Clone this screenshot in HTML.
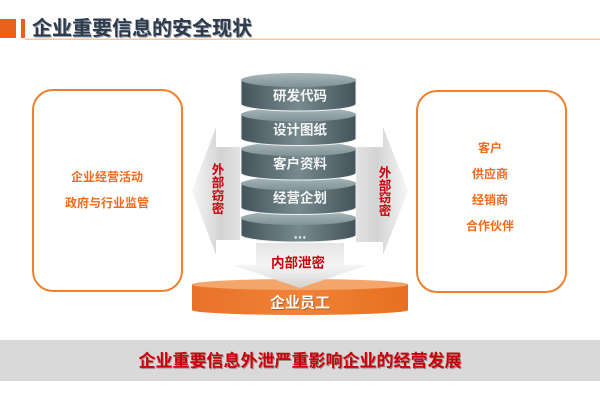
<!DOCTYPE html>
<html><head><meta charset="utf-8">
<style>
html,body{margin:0;padding:0;background:#fff;}
svg{display:block;}
text{font-family:"Liberation Sans","Noto Sans CJK SC",sans-serif;font-weight:bold;}
</style></head>
<body>
<svg width="600" height="400" viewBox="0 0 600 400" xmlns="http://www.w3.org/2000/svg">
<defs>
<linearGradient id="body" x1="0" y1="0" x2="1" y2="0">
<stop offset="0" stop-color="#43545a"/>
<stop offset="0.5" stop-color="#778a8e"/>
<stop offset="1" stop-color="#43545a"/>
</linearGradient>
<linearGradient id="top" x1="0" y1="0" x2="0" y2="1">
<stop offset="0" stop-color="#a9b8bb"/>
<stop offset="1" stop-color="#7f9296"/>
</linearGradient>
<linearGradient id="larr" x1="0" y1="0" x2="1" y2="0">
<stop offset="0" stop-color="#f6f6f6"/>
<stop offset="0.6" stop-color="#d3d3d3"/>
<stop offset="1" stop-color="#e2e2e2"/>
</linearGradient>
<linearGradient id="rarr" x1="1" y1="0" x2="0" y2="0">
<stop offset="0" stop-color="#f6f6f6"/>
<stop offset="0.6" stop-color="#d3d3d3"/>
<stop offset="1" stop-color="#e2e2e2"/>
</linearGradient>
<linearGradient id="darr" x1="0" y1="0" x2="0" y2="1">
<stop offset="0" stop-color="#e4e4e4"/>
<stop offset="0.5" stop-color="#f4f4f4"/>
<stop offset="1" stop-color="#d6d6d6"/>
</linearGradient>
<linearGradient id="obody" x1="0" y1="0" x2="1" y2="0">
<stop offset="0" stop-color="#e8722a"/>
<stop offset="0.5" stop-color="#f08236"/>
<stop offset="1" stop-color="#e6701f"/>
</linearGradient>
</defs>

<!-- title -->
<rect x="0" y="19" width="16" height="19" fill="#e8601c"/>
<rect x="21" y="19" width="4" height="19" fill="#e8601c"/>
<rect x="25" y="38.5" width="575" height="1.5" fill="#f7c4a2"/>
<text x="33" y="30" font-size="20" fill="#9aa0a8" dominant-baseline="central">企业重要信息的安全现状</text>
<text x="32" y="29" font-size="20" fill="#2e3b4d" dominant-baseline="central">企业重要信息的安全现状</text>

<!-- left box -->
<rect x="33" y="90" width="149" height="201" rx="20" ry="20" fill="#fff" stroke="#f07f2e" stroke-width="2"/>
<text x="107" y="177" font-size="12" fill="#f26a1b" text-anchor="middle" dominant-baseline="central">企业经营活动</text>
<text x="107" y="203" font-size="12" fill="#f26a1b" text-anchor="middle" dominant-baseline="central">政府与行业监管</text>

<!-- right box -->
<rect x="417" y="91" width="149" height="201" rx="20" ry="20" fill="#fff" stroke="#f07f2e" stroke-width="2"/>
<text x="490" y="148" font-size="12" fill="#f26a1b" text-anchor="middle" dominant-baseline="central">客户</text>
<text x="490" y="174" font-size="12" fill="#f26a1b" text-anchor="middle" dominant-baseline="central">供应商</text>
<text x="490" y="200" font-size="12" fill="#f26a1b" text-anchor="middle" dominant-baseline="central">经销商</text>
<text x="490" y="226" font-size="12" fill="#f26a1b" text-anchor="middle" dominant-baseline="central">合作伙伴</text>

<!-- left arrow -->
<polygon points="192,191 216,127 216,147 240,147 240,240 216,240 216,255" fill="url(#larr)"/>
<text x="218" y="170" font-size="12.5" fill="#c8000a" text-anchor="middle" dominant-baseline="central">外</text>
<text x="218" y="183" font-size="12.5" fill="#c8000a" text-anchor="middle" dominant-baseline="central">部</text>
<text x="218" y="196" font-size="12.5" fill="#c8000a" text-anchor="middle" dominant-baseline="central">窃</text>
<text x="218" y="209" font-size="12.5" fill="#c8000a" text-anchor="middle" dominant-baseline="central">密</text>

<!-- right arrow -->
<polygon points="408,191 383,127 383,147 356,147 356,242 383,242 383,255" fill="url(#rarr)"/>
<text x="385" y="173" font-size="12.5" fill="#c8000a" text-anchor="middle" dominant-baseline="central">外</text>
<text x="385" y="186" font-size="12.5" fill="#c8000a" text-anchor="middle" dominant-baseline="central">部</text>
<text x="385" y="198" font-size="12.5" fill="#c8000a" text-anchor="middle" dominant-baseline="central">窃</text>
<text x="385" y="211" font-size="12.5" fill="#c8000a" text-anchor="middle" dominant-baseline="central">密</text>

<!-- cylinder stack (drawn bottom to top) -->
<path d="M241,218 L241,235 A57.5,7 0 0 0 356,235 L356,218 Z" fill="url(#body)" stroke="#eef2f3" stroke-width="1"/>
<ellipse cx="298.5" cy="218" rx="57.5" ry="7" fill="url(#top)"/>
<path d="M241,183.5 L241,207.5 A57.5,7 0 0 0 356,207.5 L356,183.5 Z" fill="url(#body)" stroke="#eef2f3" stroke-width="1"/>
<ellipse cx="298.5" cy="183.5" rx="57.5" ry="7" fill="url(#top)"/>
<path d="M241,149 L241,173 A57.5,7 0 0 0 356,173 L356,149 Z" fill="url(#body)" stroke="#eef2f3" stroke-width="1"/>
<ellipse cx="298.5" cy="149" rx="57.5" ry="7" fill="url(#top)"/>
<path d="M241,114.5 L241,138.5 A57.5,7 0 0 0 356,138.5 L356,114.5 Z" fill="url(#body)" stroke="#eef2f3" stroke-width="1"/>
<ellipse cx="298.5" cy="114.5" rx="57.5" ry="7" fill="url(#top)"/>
<path d="M241,80 L241,104 A57.5,7 0 0 0 356,104 L356,80 Z" fill="url(#body)" stroke="#eef2f3" stroke-width="1"/>
<ellipse cx="298.5" cy="80" rx="57.5" ry="7" fill="url(#top)"/>

<g font-size="13.5" fill="#f4f6f6" text-anchor="middle" dominant-baseline="central">
<text x="300" y="96">研发代码</text>
<text x="300" y="130">设计图纸</text>
<text x="300" y="164">客户资料</text>
<text x="300" y="198">经营企划</text>
<text x="300" y="234">…</text>
</g>

<!-- orange disk -->
<path d="M192,284.5 L192,310 A108,5 0 0 0 408,310 L408,284.5 Z" fill="url(#obody)"/>
<ellipse cx="300" cy="284.5" rx="108" ry="5.5" fill="#f4a56c"/>

<!-- down arrow -->
<polygon points="256,243 344,243 344,265 368,265 300,288 232,265 256,265" fill="url(#darr)" opacity="0.95"/>
<text x="298" y="263" font-size="13.5" fill="#c8000a" text-anchor="middle" dominant-baseline="central">内部泄密</text>

<text x="301" y="304" font-size="15" fill="#8a4a20" text-anchor="middle" dominant-baseline="central" opacity="0.6">企业员工</text>
<text x="300" y="303" font-size="15" fill="#ffffff" text-anchor="middle" dominant-baseline="central">企业员工</text>

<!-- bottom band -->
<rect x="0" y="340" width="600" height="41" fill="#d9d9d9"/>
<text x="301" y="362" font-size="17" fill="#7a3a3a" text-anchor="middle" dominant-baseline="central" opacity="0.5">企业重要信息外泄严重影响企业的经营发展</text>
<text x="300" y="361" font-size="17" fill="#c8000a" text-anchor="middle" dominant-baseline="central">企业重要信息外泄严重影响企业的经营发展</text>
</svg>
</body></html>
